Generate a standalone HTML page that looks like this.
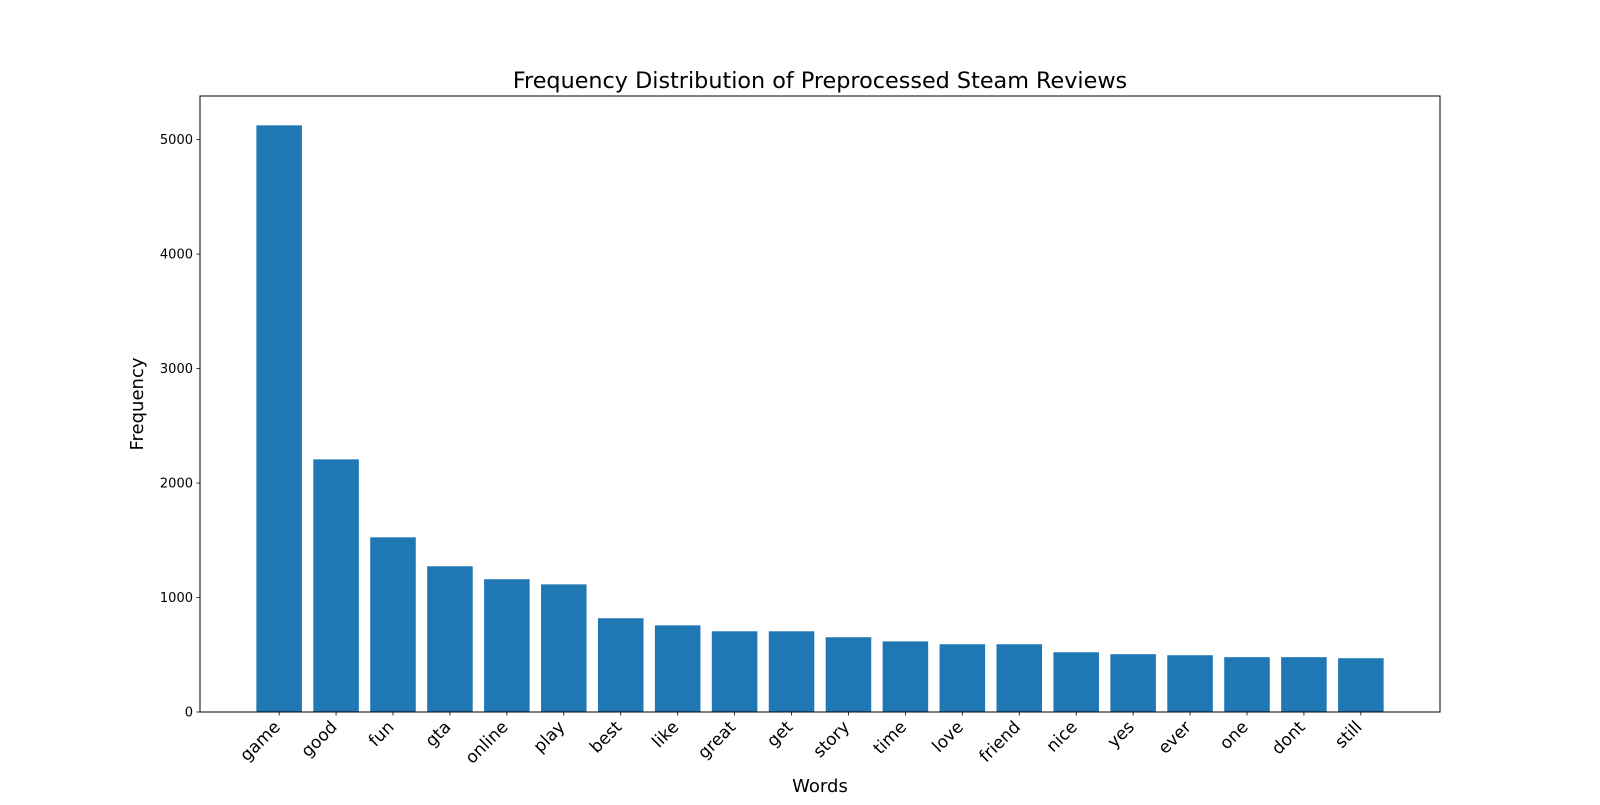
<!DOCTYPE html>
<html><head><meta charset="utf-8"><style>
body{margin:0;background:#fff}
svg text{font-family:"DejaVu Sans","Liberation Sans",sans-serif;fill:#000}
</style></head><body>
<svg id="c" width="1600" height="800" viewBox="0 0 1600 800" xmlns="http://www.w3.org/2000/svg"></svg>
<script>
const categories=["game","good","fun","gta","online","play","best","like","great","get","story","time","love","friend","nice","yes","ever","one","dont","still"];
const frequencies=[5125,2207,1526,1273,1160,1115,819,757,705,705,653,617,592,592,522,505,496,479,479,470];
const yTicks=[0,1000,2000,3000,4000,5000];
const L=200,R=1440,T=96,B=712;
const n=categories.length;
const xmin=-0.4-0.05*(n-0.2),xmax=n-1+0.4+0.05*(n-0.2);
const ymax=Math.max(...frequencies)*1.05;
const xs=v=>L+(v-xmin)/(xmax-xmin)*(R-L);
const ys=v=>B-v/ymax*(B-T);
const svg=document.getElementById('c');
const NS="http://www.w3.org/2000/svg";
function mk(tag,attrs,parent){const e=document.createElementNS(NS,tag);for(const k in attrs)e.setAttribute(k,attrs[k]);(parent||svg).appendChild(e);return e;}
categories.forEach((c,i)=>{
  const r=mk('rect',{x:xs(i-0.4),y:ys(frequencies[i]),width:xs(i+0.4)-xs(i-0.4),height:B-ys(frequencies[i]),fill:'#1f77b4'});
  
  
  const t=mk('line',{x1:xs(i),x2:xs(i),y1:B,y2:B+3.5,stroke:'#000','stroke-width':0.8});
  
  
  const ax=xs(i)+2, ay=B+16;
  const lb=mk('text',{x:ax,y:ay,'font-size':17,'text-anchor':'end',transform:`rotate(-45 ${ax} ${ay})`});
  lb.textContent=c;
  
  
});
yTicks.forEach(v=>{
  const t=mk('line',{x1:L-3.5,x2:L,y1:ys(v),y2:ys(v),stroke:'#000','stroke-width':0.8});
  
  
  const lb=mk('text',{x:L-7,y:ys(v)+4.5,'font-size':13,'text-anchor':'end'});
  lb.textContent=v;
  
  
});
const fr=mk('rect',{x:L,y:T,width:R-L,height:B-T,fill:'none',stroke:'#000','stroke-width':1});


const ti=mk('text',{x:(L+R)/2,y:T-8,'font-size':22.3,'text-anchor':'middle'});
ti.textContent='Frequency Distribution of Preprocessed Steam Reviews';


const xl=mk('text',{x:(L+R)/2,y:792,'font-size':18,'text-anchor':'middle'});
xl.textContent='Words';


const yl=mk('text',{x:143,y:(T+B)/2,'font-size':18,'text-anchor':'middle',transform:`rotate(-90 143 ${(T+B)/2})`});
yl.textContent='Frequency';


</script>
</body></html>
